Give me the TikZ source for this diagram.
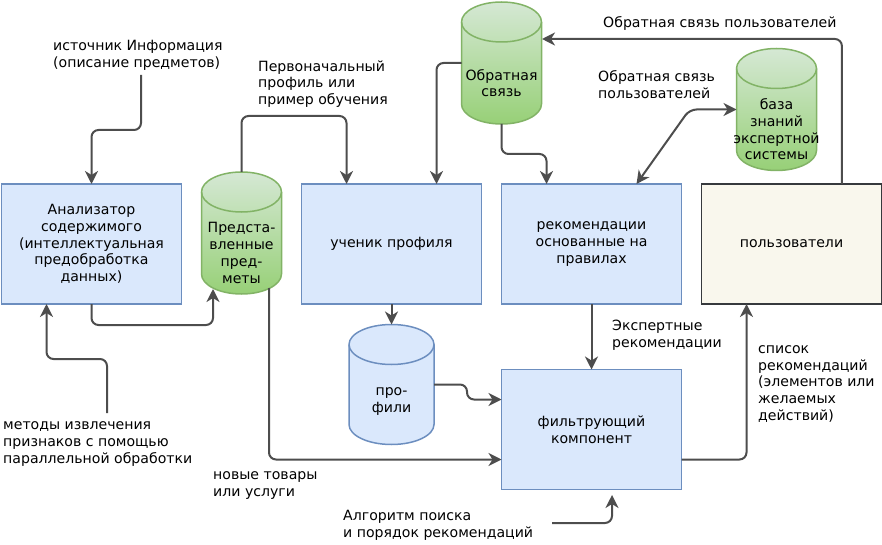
\documentclass[tikz,border=0pt]{standalone}
\usepackage{fontspec}
\setmainfont{DejaVu Sans}
\usetikzlibrary{arrows.meta,calc}
\definecolor{bluefill}{HTML}{DAE8FC}
\definecolor{bluestroke}{HTML}{6C8EBF}
\definecolor{userfill}{HTML}{F9F7ED}
\definecolor{userstroke}{HTML}{36393D}
\definecolor{gtop}{HTML}{D5E8D4}
\definecolor{gbot}{HTML}{97D077}
\definecolor{gstroke}{HTML}{82B366}
\definecolor{arrc}{HTML}{4D4D4D}
\newcommand\drawcyl[4]{%
  \path[#3] ($(#1.north west)+(0,-20)$) arc[start angle=180,end angle=0,x radius=#2,y radius=20]
    -- ($(#1.south east)+(0,20)$) arc[start angle=0,end angle=-180,x radius=#2,y radius=20] -- cycle;
  \draw[#4] ($(#1.north west)+(0,-20)$) arc[start angle=180,end angle=360,x radius=#2,y radius=20];
}
\begin{document}
\begin{tikzpicture}[x=1pt,y=1pt,
  font=\fontsize{14.1}{16.7}\selectfont,
  box/.style={draw=bluestroke, fill=bluefill, line width=1.5pt, minimum width=180pt, minimum height=120pt, align=center, inner sep=0pt, outer sep=0pt},
  ubox/.style={box, draw=userstroke, fill=userfill},
  cylbox/.style={inner sep=0pt, outer sep=0pt, minimum width=80pt, minimum height=122pt},
  cyltext/.style={align=center, inner sep=0pt},
  greencyl/.style={top color=gtop, bottom color=gbot, draw=gstroke, line width=1.5pt},
  greenrim/.style={draw=gstroke, line width=1.5pt},
  bluecyl/.style={fill=bluefill, draw=bluestroke, line width=1.5pt},
  bluerim/.style={draw=bluestroke, line width=1.5pt},
  lbl/.style={anchor=west, align=left, inner sep=0pt},
  arr/.style={draw=arrc, line width=2pt, rounded corners=7pt, -{Stealth[length=13pt,width=13pt,inset=4pt]}},
  arrtwo/.style={draw=arrc, line width=2pt, rounded corners=7pt, {Stealth[length=13pt,width=13pt,inset=4pt]}-{Stealth[length=13pt,width=13pt,inset=4pt]}}
]
\useasboundingbox (0,0) rectangle (882,-545);

% boxes
\node[box] (ana) at (91.5,-244) {Анализатор\\содержимого\\(интеллектуальная\\предобработка\\данных)};
\node[box] (lp) at (391.5,-244) {ученик профиля};
\node[box] (rb) at (591.5,-244) {рекомендации\\основанные на\\правилах};
\node[ubox] (users) at (791.5,-244) {пользователи};
\node[box] (filt) at (591.5,-429.5) {фильтрующий\\компонент};

% cylinders
\node[cylbox] (pi) at (241.5,-233) {};
\drawcyl{pi}{40}{greencyl}{greenrim}
\node[cyltext] (pit) at ($(pi.center)+(0,-20)$) {Предста-\\вленные\\пред-\\меты};

\node[cylbox] (fb) at (501.5,-63) {};
\drawcyl{fb}{40}{greencyl}{greenrim}
\node[cyltext] (fbt) at ($(fb.center)+(0,-20)$) {Обратная\\связь};

\node[cylbox] (kb) at (776.5,-109.5) {};
\drawcyl{kb}{40}{greencyl}{greenrim}
\node[cyltext] (kbt) at ($(kb.center)+(0,-20)$) {база\\знаний\\экспертной\\системы};

\node[cylbox, minimum width=85pt, minimum height=120pt] (prof) at (391.5,-384.5) {};
\drawcyl{prof}{42.5}{bluecyl}{bluerim}
\node[cyltext] (proft) at ($(prof.center)+(0,-17)$) {про-\\фили};

% free labels
\node[lbl] (src) at (53,-55.5) {источник Информация\\(описание предметов)};
\node[lbl] (init) at (258,-84) {Первоначальный\\профиль или\\пример обучения};
\node[lbl] (ufb1) at (603,-23) {Обратная связь пользователей};
\node[lbl] (ufb2) at (598,-84.5) {Обратная связь\\пользователей};
\node[lbl] (exp) at (612,-335) {Экспертные\\рекомендации};
\node[lbl] (list) at (758,-384) {список\\рекомендаций\\(элементов или\\желаемых\\действий)};
\node[lbl] (meth) at (3,-444) {методы извлечения\\признаков с помощью\\параллельной обработки};
\node[lbl] (newi) at (213,-485.5) {новые товары\\или услуги};
\node[lbl] (alg) at (343,-525.5) {Алгоритм поиска\\и порядок рекомендаций};

% coordinates for free ends
\coordinate (a0) at (141,-75);
\coordinate (c0) at (107,-413);
\coordinate (c6in) at (213,-289);
\coordinate (c6out) at (269,-288);
\coordinate (k1) at (542,-39);
\coordinate (n0) at (552,-523);
\coordinate (n1) at (612,-495);

% connectors
\draw[arr] (a0) -- ++(0,-55) -| (ana.north);
\draw[arr] (ana.south) -- ++(0,-21) -| (c6in);
\draw[arr] (c0) -- ++(0,54) -| ($(ana.south west)!0.25!(ana.south east)$);
\draw[arr] (pi.north) -- ++(0,56) -| ($(lp.north west)!0.25!(lp.north east)$);
\draw[arr] (c6out) |- ($(filt.north west)!0.75!(filt.south west)$);
\draw[arr] (lp.south) -- (prof.north);
\draw[arr] (prof.east) -- ++(33,0) |- ($(filt.north west)!0.25!(filt.south west)$);
\draw[arr] (fb.west) -| ($(lp.north west)!0.75!(lp.north east)$);
\draw[arr] (fb.south) -- ++(0,-30) -| ($(rb.north west)!0.25!(rb.north east)$);
\draw[arrtwo] (kb.west) -- ++(-47,0) -- ($(rb.north west)!0.75!(rb.north east)$);
\draw[arr] ($(users.north west)!0.78!(users.north east)$) |- (k1);
\draw[arr] (rb.south) -- (filt.north);
\draw[arr] ($(filt.north east)!0.75!(filt.south east)$) -| ($(users.south west)!0.25!(users.south east)$);
\draw[arr] (n0) -| (n1);
\end{tikzpicture}
\end{document}
